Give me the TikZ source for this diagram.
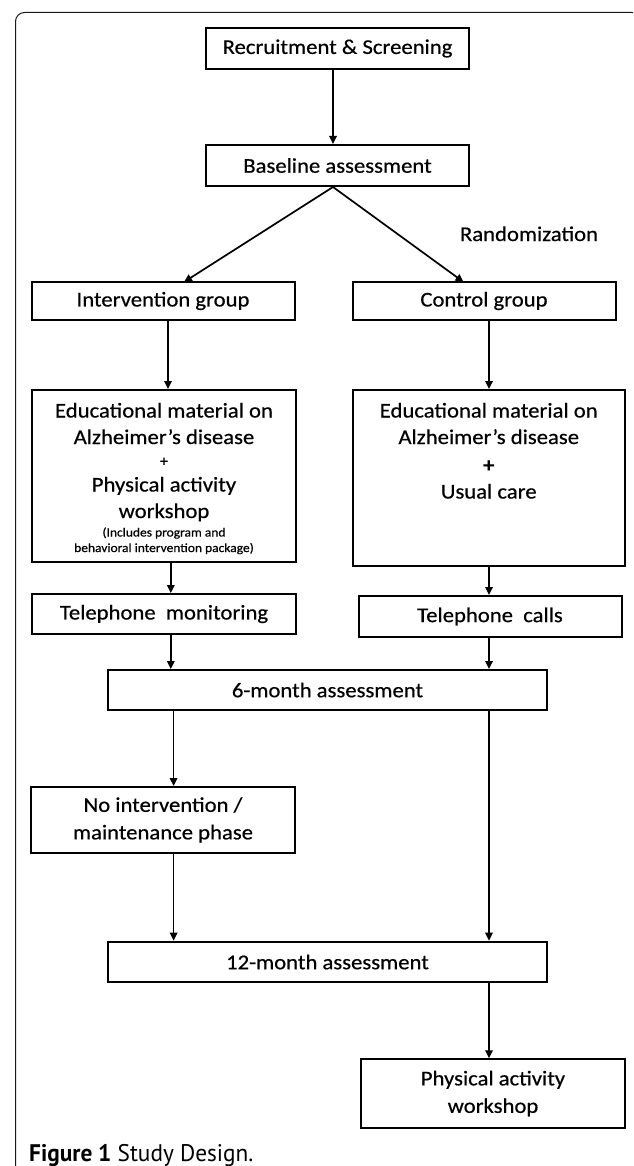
\documentclass[tikz,border=0pt]{standalone}
\usepackage{fontspec}
\usepackage{graphicx}
\setmainfont{Carlito}[FakeStretch=1.08,FakeBold=0.5]
\newfontfamily\capfont{PT Sans}
\usetikzlibrary{arrows.meta}
\begin{document}
\begin{tikzpicture}[x=1pt,y=-1pt,
  box/.style={draw=black, line width=2pt, rectangle, inner sep=0pt, align=center,
    font=\fontsize{21}{27.5}\selectfont},
  txt/.style={inner sep=0pt, anchor=base, font=\fontsize{21}{24}\selectfont},
  smalltxt/.style={inner sep=0pt, anchor=base, font=\fontsize{12.5}{14}\selectfont},
  arr/.style={line width=1.7pt, -{Triangle[length=8pt,width=7.5pt]}},
  frame/.style={draw=black!90, line width=1pt, rounded corners=9pt}]
\clip (0,0) rectangle (633,1166);
% outer frame
\draw[frame] (15.5,1170) -- (15.5,12.5) -- (641,12.5) -- (641,1170);
% columns
\coordinate (ctop) at (333,0);
\coordinate (cl1) at (168,0);
\coordinate (cl2) at (170.8,0);
\coordinate (cl3) at (173.6,0);
\coordinate (cr) at (489,0);
\coordinate (dl) at (184,282);
\coordinate (dr) at (463.5,282);
% nodes
\node[box, minimum width=263pt, minimum height=41pt] (rs) at (337.5,48.5) {Recruitment \& Screening};
\node[box, minimum width=263pt, minimum height=41pt] (ba) at (337.5,165.5) {Baseline assessment};
\node[txt] (rand) at (529,241) {Randomization};
\node[box, minimum width=263pt, minimum height=38pt] (ig) at (163,301) {Intervention group};
\node[box, minimum width=263pt, minimum height=38pt] (cg) at (484,301) {Control group};
\node[box, minimum width=264pt, minimum height=172pt] (ed1) at (164,476) {};
\node[box, minimum width=272.5pt, minimum height=176pt] (ed2) at (488.75,478) {};
% text of left educational box
\node[txt] (e1a) at (164,417.5) {Educational material on};
\node[txt] (e1b) at (164,444) {Alzheimer’s disease};
\node[smalltxt, font=\fontsize{15}{16}\selectfont] (e1c) at (164,466) {+};
\node[txt] (e1d) at (164,491.5) {Physical activity};
\node[txt] (e1e) at (164,518) {workshop};
\node[smalltxt] (e1f) at (164,536.5) {(Includes program and};
\node[smalltxt] (e1g) at (164,552) {behavioral intervention package)};
% text of right educational box
\node[txt] (e2a) at (488.75,417.5) {Educational material on};
\node[txt] (e2b) at (488.75,444) {Alzheimer’s disease};
\node[txt, font=\fontsize{21}{24}\selectfont\bfseries] (e2c) at (488.75,472) {+};
\node[txt] (e2d) at (488.75,498.5) {Usual care};
\node[box, minimum width=264pt, minimum height=40pt] (tm) at (164,614) {Telephone\ \ monitoring};
\node[box, minimum width=263pt, minimum height=41pt] (tc) at (490,616.5) {Telephone\ \ calls};
\node[box, minimum width=439pt, minimum height=40pt] (six) at (327.5,690) {6-month assessment};
\node[box, minimum width=264pt, minimum height=66pt] (ni) at (163,820) {No intervention /\\maintenance phase};
\node[box, minimum width=439pt, minimum height=40.6pt] (tw) at (327.5,962) {12-month assessment};
\node[box, minimum width=264pt, minimum height=68.5pt] (pa) at (493,1093.5) {Physical activity\\workshop};
% caption
\node[inner sep=0pt, anchor=base west, font=\capfont\fontsize{23.3}{26}\selectfont] (cap) at (29,1161.5)
  {\scalebox{1}[1.03]{\textbf{Figure 1} Study Design.}};
% connectors
\draw[arr] (rs.south -| ctop) -- (ba.north -| ctop);
\draw[arr] (ba.south -| ctop) -- (dl);
\draw[arr] (ba.south -| ctop) -- (dr);
\draw[arr] (ig.south -| cl1) -- (ed1.north -| cl1);
\draw[arr] (cg.south -| cr) -- (ed2.north -| cr);
\draw[arr] (ed1.south -| cl2) -- (tm.north -| cl2);
\draw[arr] (ed2.south -| cr) -- (tc.north -| cr);
\draw[arr] (tm.south -| cl2) -- (six.north -| cl2);
\draw[arr] (tc.south -| cr) -- (six.north -| cr);
\draw[arr] (six.south -| cl3) -- (ni.north -| cl3);
\draw[arr] (six.south -| cr) -- (tw.north -| cr);
\draw[arr] (ni.south -| cl3) -- (tw.north -| cl3);
\draw[arr] (tw.south -| cr) -- (pa.north -| cr);
\end{tikzpicture}
\end{document}
